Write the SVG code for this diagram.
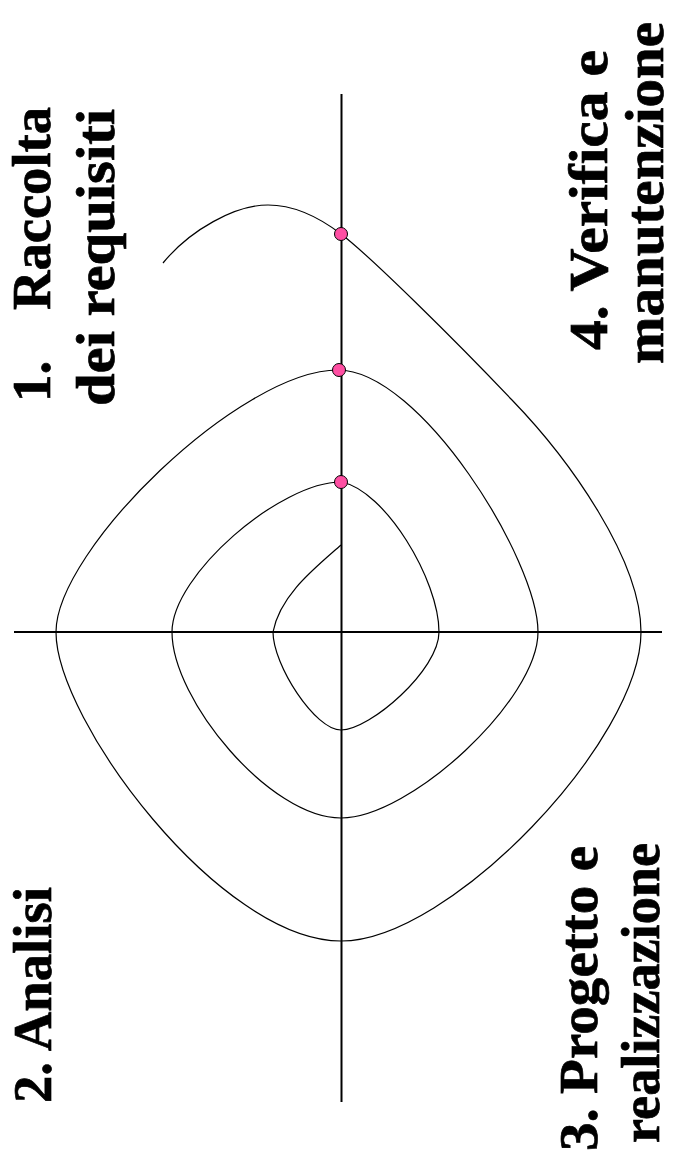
<svg xmlns="http://www.w3.org/2000/svg" width="675" height="1159" viewBox="0 0 675 1159">
<style>
.axis{stroke:#000;stroke-width:2;fill:none}
.spiral{stroke:#000;stroke-width:1.2;fill:none}
.dot{fill:#ff4fa3;stroke:#000;stroke-width:1}
.lbl{font-family:"Liberation Serif","Times New Roman",serif;font-weight:bold;font-size:55px;fill:#000;stroke:#000;stroke-width:0.7}
</style>
<rect width="675" height="1159" fill="#fff"/>
<g id="axes">
<line class="axis" x1="341.5" y1="94" x2="341.5" y2="1102"/>
<line class="axis" x1="14" y1="632" x2="662" y2="632"/>
</g>
<g id="connectors">
<path id="spiral" class="spiral" d="M341,545 C315,568 280,595 273,632 C273,665 315,730 341,730 C370,730 439,670 439,632 C439,580 385,490 341,482 C280,482 172,575 172,632 C172,700 270,818 341,818 C410,818 538,700 538,632 C538,560 420,370 338,370 C240,370 56,550 56,632 C56,720 220,941 341,941 C450,941 641,740 641,632 C641,560 570,460 512,400 C455,340 370,256 341,234 C320,218 295,205 268,205 C235,205 190,230 163,263"/>
</g>
<g id="points">
<circle class="dot" cx="341" cy="234" r="6.5"/>
<circle class="dot" cx="339" cy="370" r="6.5"/>
<circle class="dot" cx="341" cy="482" r="6.5"/>
</g>
<g id="label1">
<text class="lbl" transform="translate(50,402) rotate(-90)">1.<tspan x="92" textLength="203" lengthAdjust="spacingAndGlyphs">Raccolta</tspan></text>
<text class="lbl" transform="translate(114,406) rotate(-90)" textLength="297" lengthAdjust="spacingAndGlyphs">dei requisiti</text>
</g>
<g id="label2">
<text class="lbl" transform="translate(51,1103) rotate(-90)" textLength="216" lengthAdjust="spacingAndGlyphs">2. Analisi</text>
</g>
<g id="label3">
<text class="lbl" transform="translate(597,1151) rotate(-90)" textLength="305" lengthAdjust="spacingAndGlyphs">3. Progetto e</text>
<text class="lbl" transform="translate(659,1143) rotate(-90)" textLength="300" lengthAdjust="spacingAndGlyphs">realizzazione</text>
</g>
<g id="label4">
<text class="lbl" transform="translate(607,350) rotate(-90)" textLength="300" lengthAdjust="spacingAndGlyphs">4. Verifica e</text>
<text class="lbl" transform="translate(663,364) rotate(-90)" textLength="342" lengthAdjust="spacingAndGlyphs">manutenzione</text>
</g>
</svg>
